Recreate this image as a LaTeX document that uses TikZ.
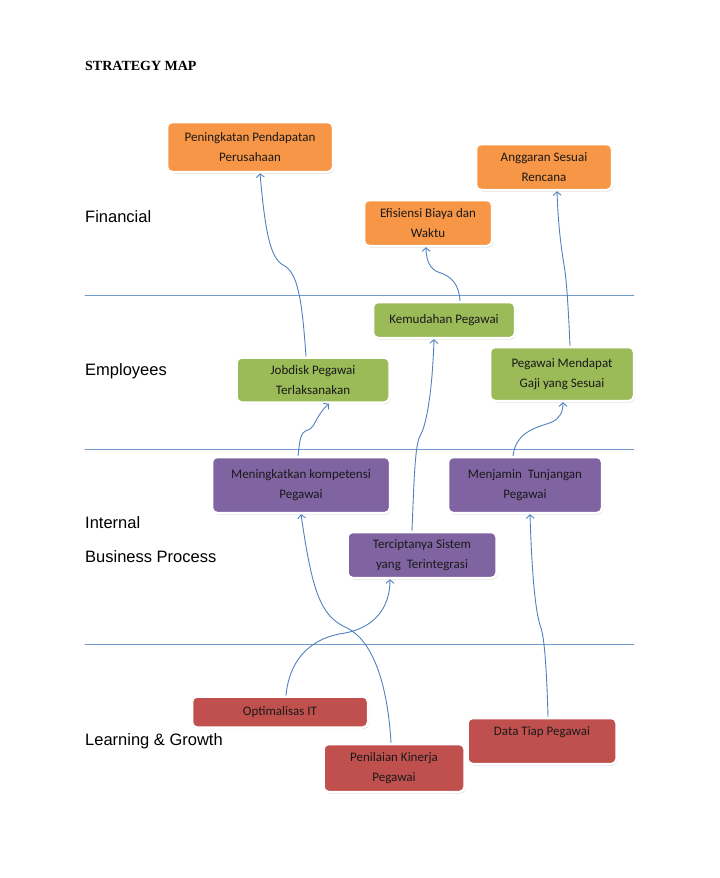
\documentclass[tikz,border=0pt]{standalone}
\usepackage{fontspec}
\setmainfont{Carlito}
\newfontfamily\labelfont{Liberation Sans}
\newfontfamily\titlefont{Liberation Serif}
\usetikzlibrary{shadows,arrows.meta}
\definecolor{finorange}{HTML}{F79646}
\definecolor{empgreen}{HTML}{9BBB59}
\definecolor{bizpurple}{HTML}{8064A2}
\definecolor{learnred}{HTML}{C0504D}
\definecolor{linkblue}{HTML}{4F81BD}

\tikzset{
  goal/.style={rounded corners=5pt, draw=white, line width=2.5pt, align=center,
    inner sep=2pt, text=black!90,
    font=\fontsize{13}{20}\selectfont,
    drop shadow={opacity=0.35, shadow xshift=1pt, shadow yshift=-1.5pt}},
  link/.style={->, line width=0.9pt, color=linkblue},
  perspective/.style={anchor=base west, inner sep=0pt, font=\labelfont\fontsize{16.5}{18}\selectfont}
}

\begin{document}
\begin{tikzpicture}[line cap=round,line join=round,x=1pt,y=-1pt,
    >={Straight Barb[length=3.5pt,width=8pt]}]
    \useasboundingbox (0,0) rectangle (720,878);

    % separators
    \draw [line width=0.8pt, color=linkblue!80] (85,295) -- (634,295);
    \draw [line width=0.8pt, color=linkblue!80] (85,449) -- (634,449);
    \draw [line width=0.8pt, color=linkblue!80] (85,644) -- (634,644);

    % titles
    \node (title) [anchor=base west, inner sep=0pt, font=\titlefont\bfseries\fontsize{14}{16}\selectfont] at (85,70) {STRATEGY MAP};
    \node (fin) [perspective] at (85,222) {Financial};
    \node (emp) [perspective] at (85,375) {Employees};
    \node (bizA) [perspective] at (85,528) {Internal};
    \node (bizB) [perspective] at (85,562) {Business Process};
    \node (learn) [perspective] at (85,745) {Learning \& Growth};

    % financial
    \node (pend) [goal, fill=finorange, minimum width=166, minimum height=50] at (250,147) {Peningkatan Pendapatan\\Perusahaan};
    \node (angg) [goal, fill=finorange, minimum width=136, minimum height=46] at (544,167) {Anggaran Sesuai\\Rencana};
    \node (efis) [goal, fill=finorange, minimum width=128, minimum height=46] at (428,223) {Efisiensi Biaya dan\\Waktu};

    % employees
    \node (kemu) [goal, fill=empgreen, minimum width=142, minimum height=36] at (444,320) {Kemudahan Pegawai};
    \node (jobd) [goal, fill=empgreen, minimum width=153, minimum height=45] at (313,380) {Jobdisk Pegawai\\Terlaksanakan};
    \node (gaji) [goal, fill=empgreen, minimum width=144, minimum height=54] at (562,374) {Pegawai Mendapat\\Gaji yang Sesuai};

    % internal business process
    \node (komp) [goal, fill=bizpurple, minimum width=178, minimum height=56] at (301,485) {Meningkatkan kompetensi\\Pegawai};
    \node (tunj) [goal, fill=bizpurple, minimum width=154, minimum height=56] at (525,485) {Menjamin~ Tunjangan\\Pegawai};
    \node (sist) [goal, fill=bizpurple, minimum width=149, minimum height=46] at (422,555) {Terciptanya Sistem\\yang~ Terintegrasi};

    % learning & growth
    \node (optim) [goal, fill=learnred, minimum width=176, minimum height=31] at (280,712) {Optimalisas IT};
    \node (data) [goal, fill=learnred, minimum width=149, minimum height=46] at (542,741) {Data Tiap Pegawai\\\mbox{}};
    \node (nilai) [goal, fill=learnred, minimum width=141, minimum height=48] at (394,768) {Penilaian Kinerja\\Pegawai};

    % links
    \draw [link] ([xshift=-7pt]jobd.north) .. controls (302,300) and (298,272) .. (283,265) .. controls (270,258) and (265,230) .. ([xshift=10pt]pend.south);
    \draw [link] ([xshift=16pt]kemu.north) .. controls (459,285) and (452,276) .. (438,272) .. controls (430,269) and (426,260) .. ([xshift=-2pt]efis.south);
    \draw [link] ([xshift=8pt]gaji.north) .. controls (568,300) and (566,275) .. (564,265) .. controls (560,240) and (558,220) .. ([xshift=13pt]angg.south);
    \draw [link] ([xshift=-3pt]komp.north) .. controls (300,440) and (300,432) .. (308,430) .. controls (315,428) and (316,415) .. ([xshift=16pt]jobd.south);
    \draw [link] ([xshift=-12pt]tunj.north) .. controls (516,430) and (540,427) .. (552,422) .. controls (560,418) and (563,412) .. ([xshift=1pt]gaji.south);
    \draw [link] ([xshift=-10pt]sist.north) .. controls (414,480) and (415,445) .. (420,436) .. controls (425,428) and (432,400) .. ([xshift=-10pt]kemu.south);
    \draw [link] ([xshift=6pt]optim.north) .. controls (290,655) and (315,637) .. (345,633) .. controls (372,628) and (390,610) .. ([xshift=-32pt]sist.south);
    \draw [link] ([xshift=-3pt]nilai.north) .. controls (388,690) and (375,640) .. (345,627) .. controls (320,615) and (312,590) .. (komp.south);
    \draw [link] ([xshift=6pt]data.north) .. controls (547,680) and (545,640) .. (541,628) .. controls (536,615) and (532,580) .. ([xshift=5pt]tunj.south);
\end{tikzpicture}
\end{document}
